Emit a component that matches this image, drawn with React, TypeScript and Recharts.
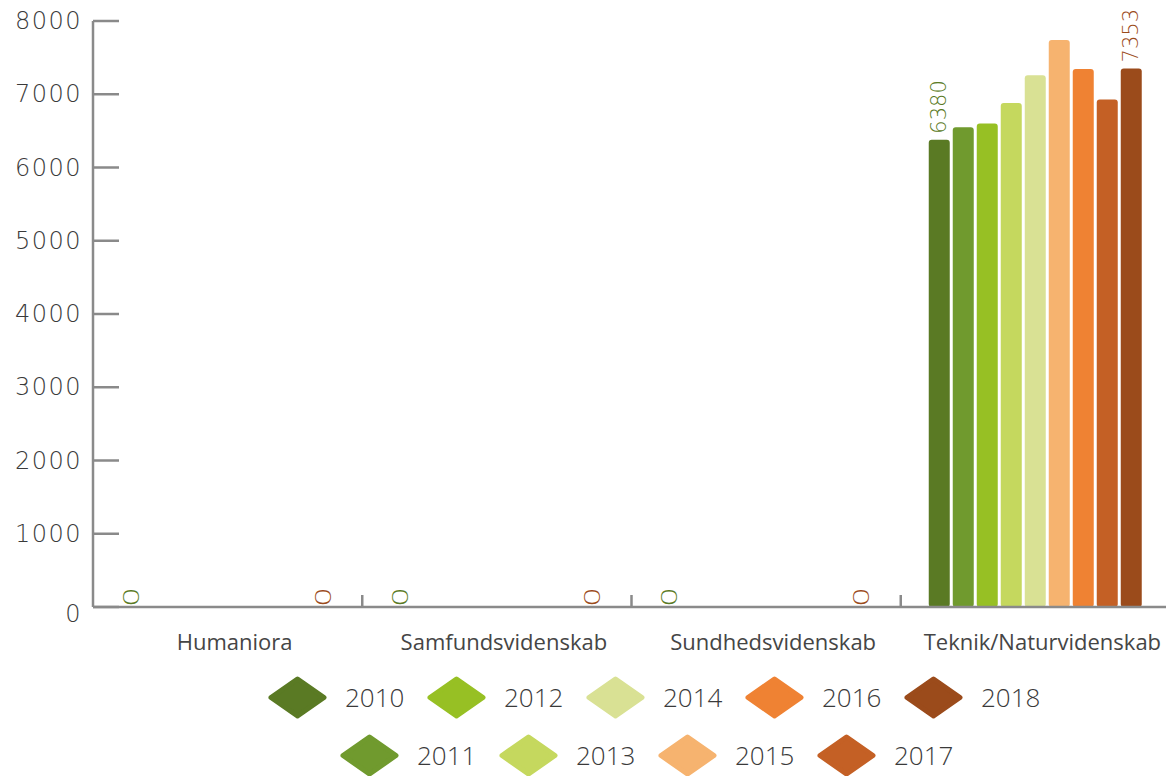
import React from 'react';
import { BarChart, Bar, XAxis, YAxis, Legend, LabelList } from 'recharts';

const categories = ['Humaniora', 'Samfundsvidenskab', 'Sundhedsvidenskab', 'Teknik/Naturvidenskab'];
const years = ['2010', '2011', '2012', '2013', '2014', '2015', '2016', '2017', '2018'];
const colors = ['#5a7a24', '#709a2e', '#97c024', '#c5d85e', '#d9e194', '#f6b36f', '#ef8233', '#c46025', '#9b4b1b'];

const v2010 = [0, 0, 0, 6380];
const v2011 = [0, 0, 0, 6550];
const v2012 = [0, 0, 0, 6600];
const v2013 = [0, 0, 0, 6880];
const v2014 = [0, 0, 0, 7260];
const v2015 = [0, 0, 0, 7740];
const v2016 = [0, 0, 0, 7345];
const v2017 = [0, 0, 0, 6930];
const v2018 = [0, 0, 0, 7353];
const seriesValues = [v2010, v2011, v2012, v2013, v2014, v2015, v2016, v2017, v2018];

const yTicks = [0, 1000, 2000, 3000, 4000, 5000, 6000, 7000, 8000];
const legendRow1 = ['2010', '2012', '2014', '2016', '2018'];
const legendRow2 = ['2011', '2013', '2015', '2017'];
const labelledYears = ['2010', '2018'];

const data = categories.map((c, i) => {
  const row: Record<string, any> = { category: c };
  years.forEach((y, k) => {
    row[y] = seriesValues[k][i];
  });
  return row;
});

const W = 1166;
const H = 768;
const margin = { top: 13, right: 4, left: 0, bottom: 3 };
const Y_W = 85;
const AXIS = '#8a8a8a';
const TEXT = '#3a3a3a';

const YTick = (props: any) => {
  const { x, y, payload } = props;
  return (
    <g>
      <line x1={x} x2={x + 26} y1={y} y2={y} stroke={AXIS} strokeWidth={2.5} />
      <text
        x={x - 11}
        y={y + (payload.value === 0 ? 7 : 0)}
        textAnchor="end"
        dominantBaseline="central"
        fill={TEXT}
        fontFamily="DejaVu Sans"
        fontWeight={300}
        fontSize={24}
        letterSpacing={1.5}
      >
        {payload.value}
      </text>
    </g>
  );
};

const plotW = W - margin.left - margin.right - Y_W;
const XTick = (props: any) => {
  const { x, y, payload } = props;
  const half = payload.offset ? payload.offset : plotW / categories.length / 2;
  return (
    <g>
      <line x1={x + half} x2={x + half} y1={y} y2={y - 12} stroke={AXIS} strokeWidth={2.5} />
      <text
        x={x + 7}
        y={y + 43}
        textAnchor="middle"
        fill="#454545"
        fontFamily="Open Sans"
        fontSize={22}
        fontWeight={400}
      >
        {payload.value}
      </text>
    </g>
  );
};

const makeLabel = (color: string) => (props: any) => {
  const { x, y, width, value } = props;
  const cx = x + width / 2;
  const isZero = Number(value) === 0;
  const ty = y - (isZero ? 0 : 6);
  const stretch = isZero ? ' scale(1.5 1)' : '';
  return (
    <g transform={`translate(${cx} ${ty}) rotate(-90)${stretch}`}>
      <text
        x={0}
        y={0}
        textAnchor="start"
        dominantBaseline="central"
        fill={color}
        fontFamily="DejaVu Sans"
        fontWeight={300}
        fontSize={21}
      >
        {value}
      </text>
    </g>
  );
};

const Diamond = ({ color }: { color: string }) => (
  <svg width={59} height={43} style={{ display: 'block', flex: 'none' }}>
    <polygon
      points="3,21.5 29.5,3 56,21.5 29.5,40"
      fill={color}
      stroke={color}
      strokeWidth={5}
      strokeLinejoin="round"
    />
  </svg>
);

const LegendRow = ({ items, left, top }: { items: string[]; left: number; top: number }) => (
  <div style={{ position: 'absolute', left, top, height: 46, display: 'flex', alignItems: 'center' }}>
    {items.map((y) => (
      <div key={y} style={{ width: 159, display: 'flex', alignItems: 'center' }}>
        <Diamond color={colors[years.indexOf(y)]} />
        <span
          style={{
            marginLeft: 18,
            fontFamily: 'Open Sans',
            fontWeight: 300,
            fontSize: 26,
            color: TEXT,
            lineHeight: '46px',
          }}
        >
          {y}
        </span>
      </div>
    ))}
  </div>
);

const renderLegend = () => (
  <div style={{ position: 'relative', width: W, height: 116 }}>
    <LegendRow items={legendRow1} left={260} top={14} />
    <LegendRow items={legendRow2} left={332} top={72} />
  </div>
);

export default function App() {
  return (
    <div style={{ width: W, height: H }}>
      <BarChart
        width={W}
        height={H}
        data={data}
        margin={margin}
        barCategoryGap={28}
        barGap={3}
        style={{ overflow: 'visible' }}
      >
        <XAxis
          dataKey="category"
          height={50}
          axisLine={{ stroke: AXIS, strokeWidth: 2.5 }}
          tickLine={false}
          tickSize={0}
          tickMargin={0}
          tick={<XTick />}
          interval={0}
        />
        <YAxis
          width={Y_W}
          domain={[0, 8000]}
          ticks={yTicks}
          axisLine={{ stroke: AXIS, strokeWidth: 2.5 }}
          tickLine={false}
          tickSize={0}
          tickMargin={0}
          tick={<YTick />}
          interval={0}
        />
        <Legend
          verticalAlign="bottom"
          content={renderLegend}
          wrapperStyle={{ top: 652, left: 0, bottom: 'auto', right: 'auto', width: W, height: 116 }}
        />
        {years.map((y, k) => (
          <Bar
            key={y}
            dataKey={y}
            fill={colors[k]}
            radius={3}
            minPointSize={0.01}
            isAnimationActive={false}
          >
            {labelledYears.includes(y) && (
              <LabelList dataKey={y} content={makeLabel(colors[k])} />
            )}
          </Bar>
        ))}
      </BarChart>
    </div>
  );
}
